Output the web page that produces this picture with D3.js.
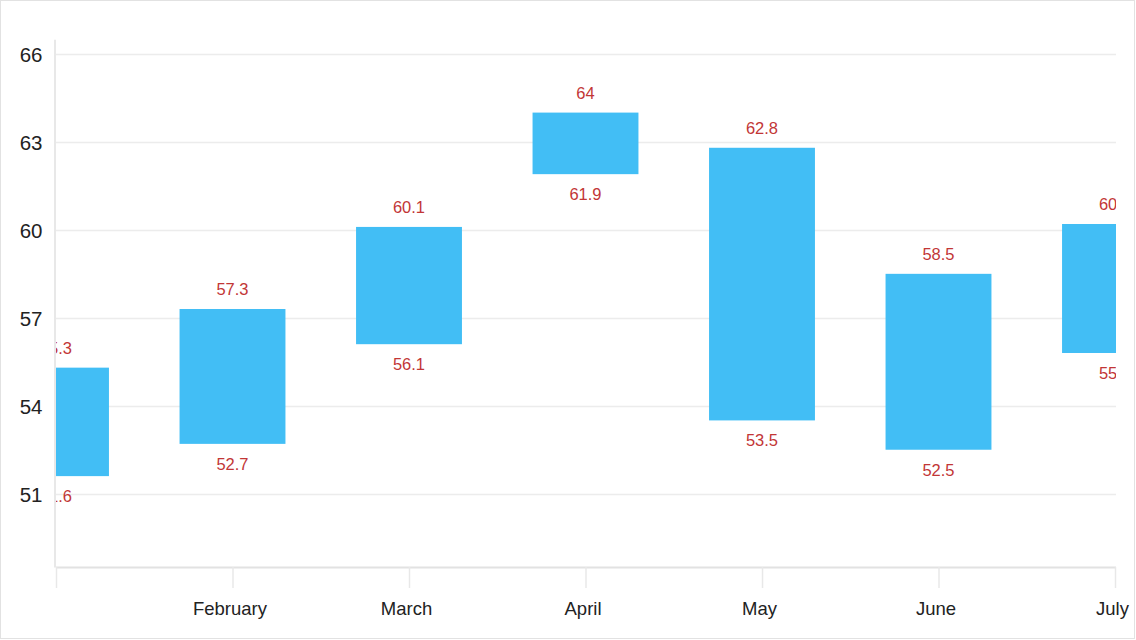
<!DOCTYPE html>
<html><head><meta charset="utf-8">
<script src="https://cdn.jsdelivr.net/npm/d3@7"></script>
<style>html,body{margin:0;padding:0;background:#fff;}svg{display:block;font-family:"Liberation Sans",Arial,sans-serif;}</style>
</head><body>
<svg id="c" width="1136" height="640"></svg>
<script>
const categories = ["January","February","March","April","May","June","July"];
const highValues = [55.3, 57.3, 60.1, 64, 62.8, 58.5, 60.2];
const lowValues  = [51.6, 52.7, 56.1, 61.9, 53.5, 52.5, 55.8];
const yTicks = [51, 54, 57, 60, 63, 66];

(function(){
const svg = d3.select("#c");
const W = 1136, H = 640;
const pLeft = 56, pRight = 1116, pTop = 39.3, pBottom = 567;

svg.append("rect").attr("x",0.5).attr("y",0.5).attr("width",W-2).attr("height",H-2)
  .attr("fill","#fff").attr("stroke","#e2e2e2");

const x = d3.scalePoint().domain(categories).range([pLeft, pRight-1]);
const y = d3.scaleLinear().domain([48.5, 66.5]).range([pBottom, pTop]);
const step = x.step();
const bw = step*0.6;

// gridlines
svg.append("g").selectAll("line").data(yTicks).join("line")
  .attr("x1",pLeft).attr("x2",pRight).attr("y1",d=>Math.round(y(d))+0.5).attr("y2",d=>Math.round(y(d))+0.5)
  .attr("stroke","#ececec").attr("stroke-width",1.5);

// y axis
const yAxis = svg.append("g").attr("transform",`translate(${pLeft-1.5},0)`)
  .call(d3.axisLeft(y).tickValues(yTicks).tickSize(0).tickPadding(12).tickFormat(d3.format("d")));
yAxis.select(".domain").attr("stroke","#e0e0e0").attr("stroke-width",1.5);
yAxis.selectAll("text").attr("font-size",20.5).attr("fill","#222").attr("dy","0.36em");

// x axis
const xAxis = svg.append("g").attr("transform",`translate(0,${pBottom})`)
  .call(d3.axisBottom(x).tickSize(21).tickPadding(14).tickSizeOuter(0).tickFormat(d=>d==="January"?"":d));
xAxis.select(".domain").attr("stroke","#e2e2e2").attr("stroke-width",2).attr("d",`M${pLeft},0.5H${pRight}`);
xAxis.selectAll(".tick line").attr("stroke","#e8e8e8").attr("stroke-width",1.5);
xAxis.selectAll("text").attr("font-size",18.5).attr("fill","#222").attr("dx","-3");

// clip
svg.append("clipPath").attr("id","pc").append("rect")
  .attr("x",pLeft).attr("y",0).attr("width",pRight-pLeft).attr("height",pBottom);
const plot = svg.append("g").attr("clip-path","url(#pc)");

const data = categories.map((c,i)=>({c, hi:highValues[i], lo:lowValues[i]}));

plot.selectAll("rect.bar").data(data).join("rect").attr("class","bar")
  .attr("x",d=>x(d.c)-bw/2).attr("width",bw)
  .attr("y",d=>y(d.hi)).attr("height",d=>y(d.lo)-y(d.hi))
  .attr("fill","#42bef5");

plot.selectAll("text.hi").data(data).join("text").attr("class","hi")
  .attr("x",d=>x(d.c)).attr("y",d=>y(d.hi)-20).attr("dy","0.36em")
  .attr("text-anchor","middle").attr("font-size",16.5).attr("fill","#c23636")
  .text(d=>d.hi);
plot.selectAll("text.lo").data(data).join("text").attr("class","lo")
  .attr("x",d=>x(d.c)).attr("y",d=>y(d.lo)+20).attr("dy","0.36em")
  .attr("text-anchor","middle").attr("font-size",16.5).attr("fill","#c23636")
  .text(d=>d.lo);
})();
</script>
</body></html>
